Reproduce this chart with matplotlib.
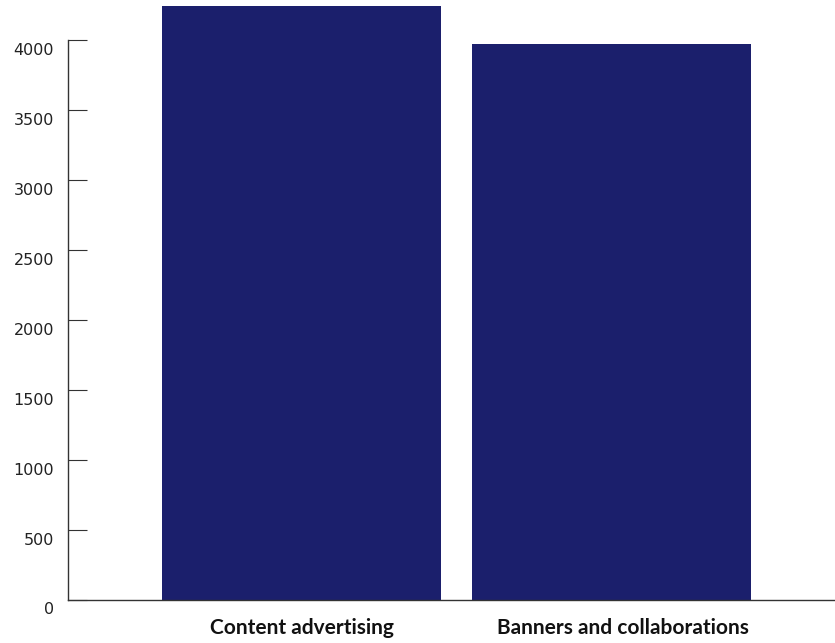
import numpy as np
from matplotlib import pyplot as plt
from matplotlib.transforms import ScaledTranslation

categories = ['Content advertising', 'Banners and collaborations']
values = [4243, 3969]
y_ticks = [0, 500, 1000, 1500, 2000, 2500, 3000, 3500, 4000]

BAR_COLOR = '#1b1f6c'
AXIS_COLOR = '#333333'

fig = plt.figure(figsize=(8.35, 6.43), dpi=100)
ax = fig.add_axes([68 / 835, 43 / 643, 767 / 835, 594 / 643])

x = np.arange(len(categories))
ax.bar(x, values, width=0.9, color=BAR_COLOR, linewidth=0)

ax.set_xlim(-0.753, 1.721)
ax.set_ylim(0, max(values))

for side in ('top', 'right'):
    ax.spines[side].set_visible(False)
for side in ('left', 'bottom'):
    ax.spines[side].set_color(AXIS_COLOR)
    ax.spines[side].set_linewidth(1.0)
ax.spines['left'].set_bounds(y_ticks[0], y_ticks[-1])

ax.set_yticks(y_ticks)
ax.set_yticklabels([str(t) for t in y_ticks], fontsize=11.5, family='DejaVu Sans', color='#222222')
ax.tick_params(axis='y', direction='in', length=14, width=0.8, color=AXIS_COLOR, pad=10)
shift = ScaledTranslation(0, -2.5 / 100, fig.dpi_scale_trans)
for lab in ax.get_yticklabels():
    lab.set_va('top')
    lab.set_transform(lab.get_transform() + shift)

ax.set_xticks(x)
ax.set_xticklabels(categories, fontsize=15, fontweight='bold', family=['Lato', 'DejaVu Sans'], color='#111111')
ax.tick_params(axis='x', length=0, pad=13)
# the second label sits a little right of its bar in the original
xlabs = ax.get_xticklabels()
xlabs[1].set_transform(xlabs[1].get_transform() + ScaledTranslation(11 / 100, 0, fig.dpi_scale_trans))

fig.savefig('out.png', dpi=100)
